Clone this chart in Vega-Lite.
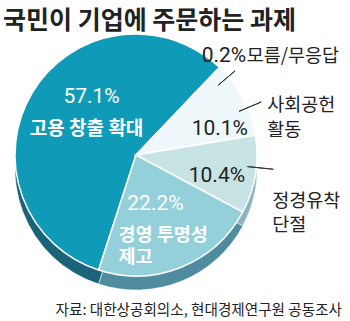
{
  "$schema": "https://vega.github.io/schema/vega-lite/v6.json",
  "width": 272,
  "height": 234,
  "autosize": "none",
  "padding": {"left": 0, "top": 38, "right": 78, "bottom": 49},
  "background": "white",
  "config": {"view": {"stroke": null}},
  "title": {"text": "국민이 기업에 주문하는 과제", "anchor": "start", "font": "Noto Sans CJK KR", "fontSize": 25, "fontWeight": "bold", "color": "#222222", "offset": -3, "dx": 3},
  "data": {"values": [
    {"category": "고용 창출 확대", "value": 57.1, "order": 1, "label": "57.1%", "name": "고용 창출 확대"},
    {"category": "모름/무응답", "value": 0.2, "order": 2, "label": "0.2%", "name": "모름/무응답"},
    {"category": "사회공헌 활동", "value": 10.1, "order": 3, "label": "10.1%", "name": "사회공헌|활동"},
    {"category": "정경유착 단절", "value": 10.4, "order": 4, "label": "10.4%", "name": "정경유착|단절"},
    {"category": "경영 투명성 제고", "value": 22.2, "order": 5, "label": "22.2%", "name": "경영 투명성|제고"}
  ]},
  "layer": [
    {
      "mark": {"type": "arc", "outerRadius": 121, "yOffset": 14, "stroke": "#ffffff", "strokeWidth": 0.5},
      "encoding": {
        "theta": {"field": "value", "type": "quantitative", "stack": true, "scale": {"range": [3.456, 9.739]}},
        "order": {"field": "order", "type": "quantitative"},
        "color": {"field": "category", "type": "nominal", "legend": null,
          "scale": {"domain": ["고용 창출 확대", "모름/무응답", "사회공헌 활동", "정경유착 단절", "경영 투명성 제고"],
                    "range": ["#1b6378", "#bcd0d8", "#bcd0d8", "#8fb1c1", "#4f8ca0"]}}
      }
    },
    {
      "mark": {"type": "arc", "outerRadius": 121, "stroke": "#ffffff", "strokeWidth": 1.5},
      "encoding": {
        "theta": {"field": "value", "type": "quantitative", "stack": true, "scale": {"range": [3.456, 9.739]}},
        "order": {"field": "order", "type": "quantitative"},
        "color": {"field": "category", "type": "nominal", "legend": null,
          "scale": {"domain": ["고용 창출 확대", "모름/무응답", "사회공헌 활동", "정경유착 단절", "경영 투명성 제고"],
                    "range": ["#0f9bb7", "#f4fafc", "#eef8fb", "#c8e3e3", "#93d0d9"]}}
      }
    },
    {
      "mark": {"type": "arc", "filled": false, "innerRadius": 108, "outerRadius": 130, "padAngle": 3, "thetaOffset": 0.1, "strokeWidth": 1},
      "encoding": {
        "theta": {"field": "value", "type": "quantitative", "stack": true},
        "order": {"field": "order", "type": "quantitative"},
        "detail": {"field": "category"},
        "stroke": {"condition": {"test": "datum.order === 2", "value": "#333333"}, "value": "transparent"}
      }
    },
    {
      "mark": {"type": "arc", "filled": false, "innerRadius": 112, "outerRadius": 136, "padAngle": 3, "thetaOffset": 0.08, "strokeWidth": 1},
      "encoding": {
        "theta": {"field": "value", "type": "quantitative", "stack": true},
        "order": {"field": "order", "type": "quantitative"},
        "detail": {"field": "category"},
        "stroke": {"condition": {"test": "datum.order === 3", "value": "#333333"}, "value": "transparent"}
      }
    },
    {
      "mark": {"type": "arc", "filled": false, "innerRadius": 112, "outerRadius": 138, "padAngle": 3, "thetaOffset": -0.06, "strokeWidth": 1},
      "encoding": {
        "theta": {"field": "value", "type": "quantitative", "stack": true},
        "order": {"field": "order", "type": "quantitative"},
        "detail": {"field": "category"},
        "stroke": {"condition": {"test": "datum.order === 4", "value": "#333333"}, "value": "transparent"}
      }
    },
    {
      "mark": {"type": "text", "radius": 68, "dx": 14, "dy": -17, "align": "center", "baseline": "alphabetic", "font": "Roboto", "fontSize": 21, "fill": "#ffffff"},
      "encoding": {
        "theta": {"field": "value", "type": "quantitative", "stack": true},
        "order": {"field": "order", "type": "quantitative"},
        "detail": {"field": "category"},
        "text": {"condition": {"test": "datum.order === 1", "field": "label"}, "value": ""}
      }
    },
    {
      "mark": {"type": "text", "radius": 68, "dx": 9, "dy": 15, "align": "center", "baseline": "alphabetic", "font": "Noto Sans CJK KR", "fontSize": 19, "fontWeight": "bold", "fill": "#ffffff"},
      "encoding": {
        "theta": {"field": "value", "type": "quantitative", "stack": true},
        "order": {"field": "order", "type": "quantitative"},
        "detail": {"field": "category"},
        "text": {"condition": {"test": "datum.order === 1", "field": "name"}, "value": ""}
      }
    },
    {
      "mark": {"type": "text", "radius": 60, "dx": -3, "dy": -1, "align": "center", "baseline": "alphabetic", "font": "Roboto", "fontSize": 21, "fill": "#ffffff"},
      "encoding": {
        "theta": {"field": "value", "type": "quantitative", "stack": true},
        "order": {"field": "order", "type": "quantitative"},
        "detail": {"field": "category"},
        "text": {"condition": {"test": "datum.order === 5", "field": "label"}, "value": ""}
      }
    },
    {
      "mark": {"type": "text", "radius": 60, "dx": -40, "dy": 30, "align": "left", "baseline": "alphabetic", "lineBreak": "|", "lineHeight": 22, "font": "Noto Sans CJK KR", "fontSize": 18.5, "fontWeight": "bold", "fill": "#ffffff"},
      "encoding": {
        "theta": {"field": "value", "type": "quantitative", "stack": true},
        "order": {"field": "order", "type": "quantitative"},
        "detail": {"field": "category"},
        "text": {"condition": {"test": "datum.order === 5", "field": "name"}, "value": ""}
      }
    },
    {
      "mark": {"type": "text", "radius": 90, "dx": 4, "dy": 22, "align": "center", "baseline": "alphabetic", "font": "Roboto", "fontSize": 21, "fill": "#222222"},
      "encoding": {
        "theta": {"field": "value", "type": "quantitative", "stack": true},
        "order": {"field": "order", "type": "quantitative"},
        "detail": {"field": "category"},
        "text": {"condition": {"test": "datum.order === 3", "field": "label"}, "value": ""}
      }
    },
    {
      "mark": {"type": "text", "radius": 140, "dx": 7, "dy": 21, "align": "left", "baseline": "alphabetic", "lineBreak": "|", "lineHeight": 25, "font": "Noto Sans CJK KR", "fontSize": 18.5, "fill": "#222222"},
      "encoding": {
        "theta": {"field": "value", "type": "quantitative", "stack": true},
        "order": {"field": "order", "type": "quantitative"},
        "detail": {"field": "category"},
        "text": {"condition": {"test": "datum.order === 3", "field": "name"}, "value": ""}
      }
    },
    {
      "mark": {"type": "text", "radius": 82, "dx": 0, "dy": 14, "align": "center", "baseline": "alphabetic", "font": "Roboto", "fontSize": 21, "fill": "#222222"},
      "encoding": {
        "theta": {"field": "value", "type": "quantitative", "stack": true},
        "order": {"field": "order", "type": "quantitative"},
        "detail": {"field": "category"},
        "text": {"condition": {"test": "datum.order === 4", "field": "label"}, "value": ""}
      }
    },
    {
      "mark": {"type": "text", "radius": 140, "dx": -2, "dy": 29, "align": "left", "baseline": "alphabetic", "lineBreak": "|", "lineHeight": 24, "font": "Noto Sans CJK KR", "fontSize": 18.5, "fill": "#222222"},
      "encoding": {
        "theta": {"field": "value", "type": "quantitative", "stack": true},
        "order": {"field": "order", "type": "quantitative"},
        "detail": {"field": "category"},
        "text": {"condition": {"test": "datum.order === 4", "field": "name"}, "value": ""}
      }
    },
    {
      "mark": {"type": "text", "radius": 125, "dx": -21, "dy": -3, "align": "left", "baseline": "alphabetic", "font": "Roboto", "fontSize": 21, "fill": "#222222"},
      "encoding": {
        "theta": {"field": "value", "type": "quantitative", "stack": true},
        "order": {"field": "order", "type": "quantitative"},
        "detail": {"field": "category"},
        "text": {"condition": {"test": "datum.order === 2", "field": "label"}, "value": ""}
      }
    },
    {
      "mark": {"type": "text", "radius": 125, "dx": 24, "dy": -3, "align": "left", "baseline": "alphabetic", "font": "Noto Sans CJK KR", "fontSize": 18.5, "fill": "#222222"},
      "encoding": {
        "theta": {"field": "value", "type": "quantitative", "stack": true},
        "order": {"field": "order", "type": "quantitative"},
        "detail": {"field": "category"},
        "text": {"condition": {"test": "datum.order === 2", "field": "name"}, "value": ""}
      }
    },
    {
      "data": {"values": [{"t": "자료: 대한상공회의소, 현대경제연구원 공동조사"}]},
      "mark": {"type": "text", "x": {"expr": "width + 70"}, "y": {"expr": "height + 43"}, "align": "right", "baseline": "alphabetic", "font": "Noto Sans CJK KR", "fontSize": 14.6, "fill": "#222222"},
      "encoding": {"text": {"field": "t"}}
    }
  ],
  "resolve": {"scale": {"color": "independent", "theta": "shared"}}
}
